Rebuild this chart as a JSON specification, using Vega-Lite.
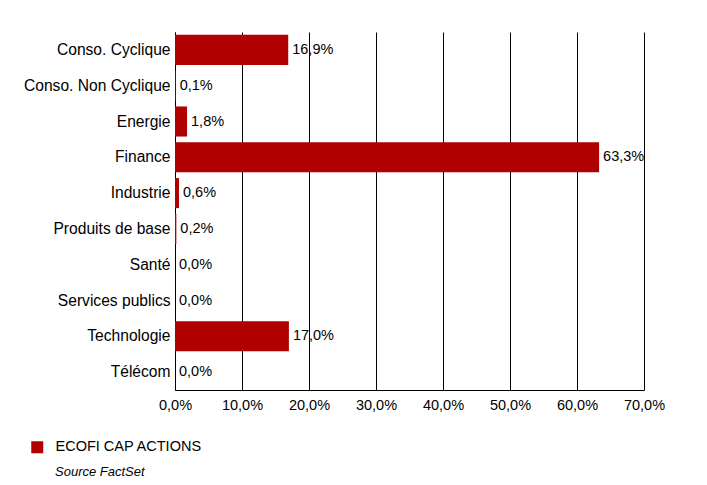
{
  "$schema": "https://vega.github.io/schema/vega-lite/v6.json",
  "autosize": {"type": "none"},
  "width": 469,
  "height": 358,
  "padding": {"left": 175, "top": 32, "right": 63, "bottom": 95},
  "background": "white",
  "data": {
    "values": [
      {"secteur": "Conso. Cyclique", "poids": 16.9, "serie": "ECOFI CAP ACTIONS"},
      {"secteur": "Conso. Non Cyclique", "poids": 0.1, "serie": "ECOFI CAP ACTIONS"},
      {"secteur": "Energie", "poids": 1.8, "serie": "ECOFI CAP ACTIONS"},
      {"secteur": "Finance", "poids": 63.3, "serie": "ECOFI CAP ACTIONS"},
      {"secteur": "Industrie", "poids": 0.6, "serie": "ECOFI CAP ACTIONS"},
      {"secteur": "Produits de base", "poids": 0.2, "serie": "ECOFI CAP ACTIONS"},
      {"secteur": "Santé", "poids": 0.0, "serie": "ECOFI CAP ACTIONS"},
      {"secteur": "Services publics", "poids": 0.0, "serie": "ECOFI CAP ACTIONS"},
      {"secteur": "Technologie", "poids": 17.0, "serie": "ECOFI CAP ACTIONS"},
      {"secteur": "Télécom", "poids": 0.0, "serie": "ECOFI CAP ACTIONS"}
    ]
  },
  "title": {
    "text": "Source FactSet",
    "orient": "bottom",
    "anchor": "start",
    "frame": "group",
    "dx": -120,
    "offset": 12,
    "font": "Liberation Sans",
    "fontSize": 13,
    "fontStyle": "italic",
    "fontWeight": "normal",
    "color": "#000000"
  },
  "transform": [
    {"calculate": "replace(format(datum.poids, '.1f'), '.', ',') + '%'", "as": "poids_label"}
  ],
  "encoding": {
    "y": {
      "field": "secteur",
      "type": "nominal",
      "sort": null,
      "title": null,
      "scale": {"paddingInner": 0.16, "paddingOuter": 0.08},
      "axis": {
        "ticks": false,
        "labelPadding": 5,
        "labelFont": "Liberation Sans",
        "labelFontSize": 15.6,
        "labelColor": "#000000",
        "domainColor": "#000000",
        "grid": false
      }
    },
    "x": {
      "field": "poids",
      "type": "quantitative",
      "title": null,
      "scale": {"domain": [0, 70], "nice": false},
      "axis": {
        "values": [0, 10, 20, 30, 40, 50, 60, 70],
        "labelExpr": "replace(format(datum.value, '.1f'), '.', ',') + '%'",
        "labelFlush": false,
        "ticks": false,
        "labelPadding": 8,
        "labelFont": "Liberation Sans",
        "labelFontSize": 14.5,
        "labelColor": "#000000",
        "domainColor": "#000000",
        "grid": true,
        "gridColor": "#000000",
        "gridOpacity": 1,
        "gridWidth": 1
      }
    }
  },
  "layer": [
    {
      "mark": {"type": "bar", "cornerRadius": 0},
      "encoding": {
        "color": {
          "field": "serie",
          "type": "nominal",
          "scale": {"range": ["#B00000"]},
          "legend": {
            "title": null,
            "orient": "none",
            "legendX": -145,
            "legendY": 408,
            "padding": 0,
            "symbolType": "square",
            "symbolSize": 144,
            "symbolStrokeWidth": 0,
            "labelFont": "Liberation Sans",
            "labelFontSize": 14.5,
            "labelColor": "#000000",
            "labelOffset": 11
          }
        }
      }
    },
    {
      "mark": {"type": "text", "align": "left", "baseline": "middle", "dx": 4, "font": "Liberation Sans", "fontSize": 14.5, "color": "#000000"},
      "encoding": {
        "text": {"field": "poids_label"}
      }
    }
  ],
  "config": {
    "view": {"stroke": null}
  }
}
